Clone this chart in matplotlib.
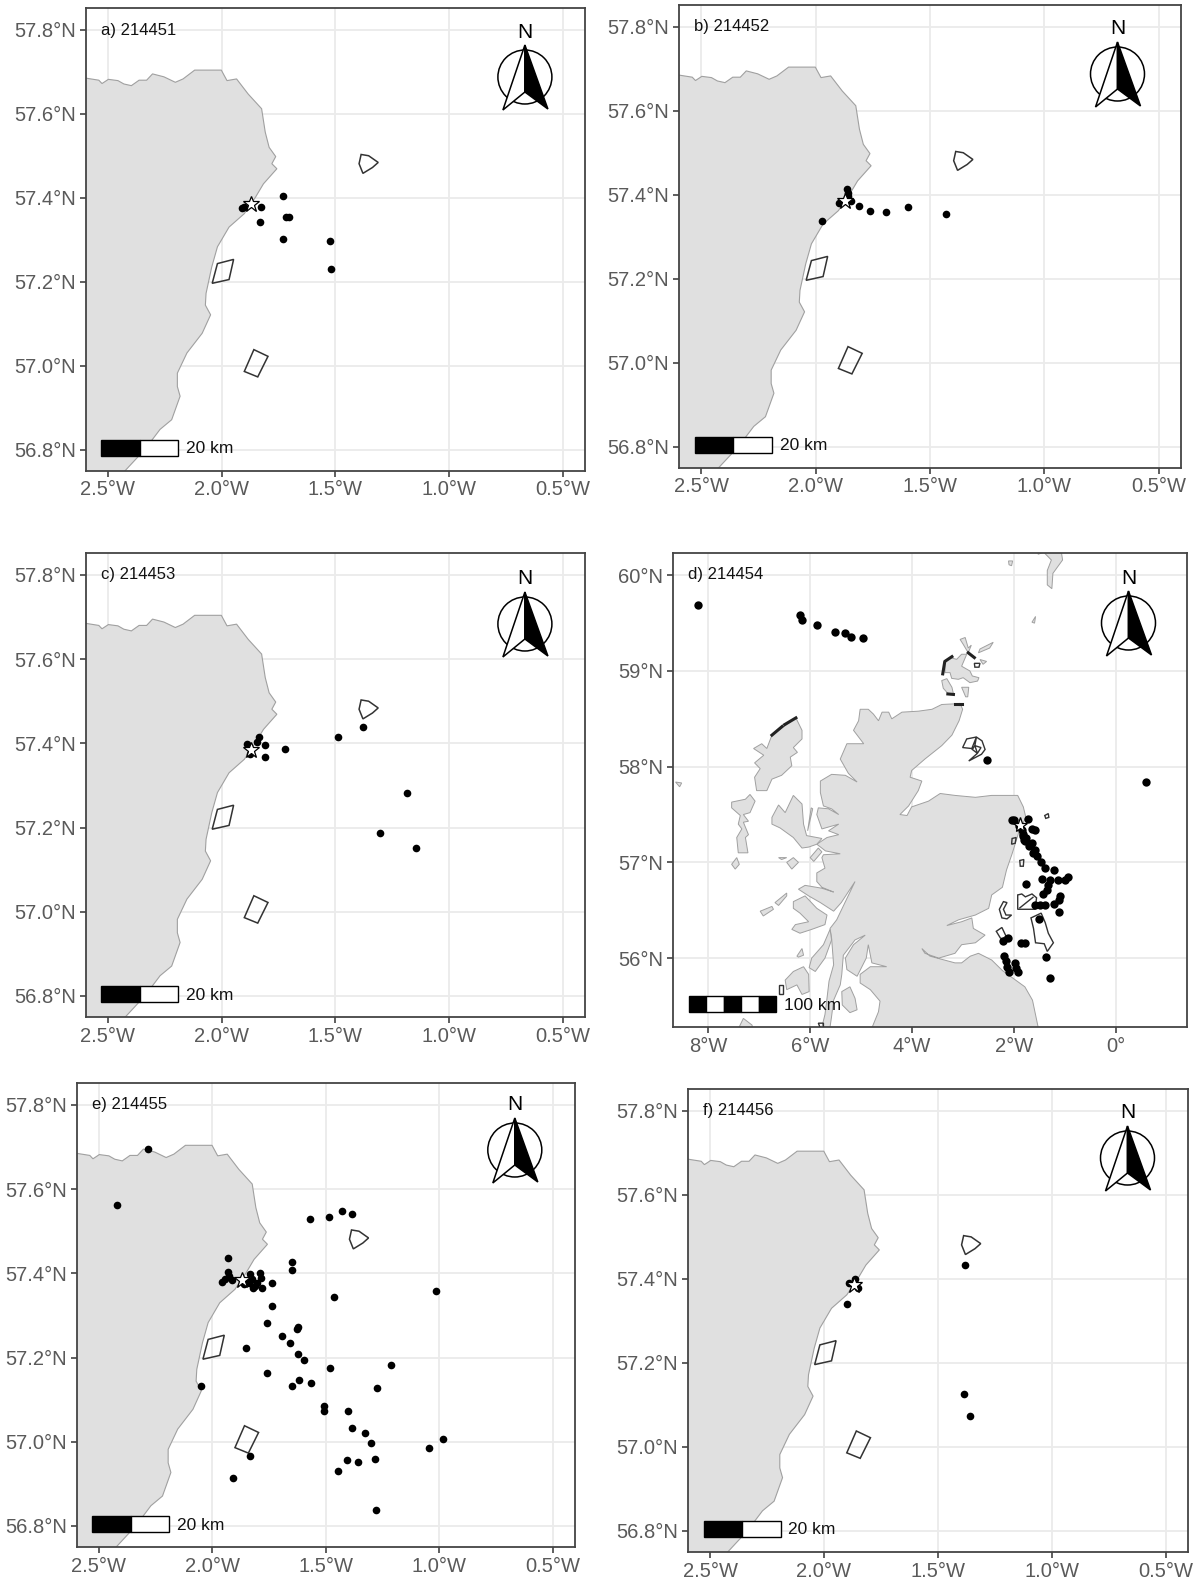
import matplotlib
matplotlib.use('Agg')
import matplotlib.pyplot as plt
from matplotlib.patches import Rectangle, Circle, Polygon

plt.rcParams['font.family'] = ['Liberation Sans', 'DejaVu Sans']

FIG_W = 1199
FIG_H = 1580

# pixel boxes of the panels: left, right, top, bottom
box_a = (85.6, 585.4, 8, 470.5)
box_b = (679, 1181, 5, 467.5)
box_c = (85.6, 585.4, 553, 1017)
box_d = (673, 1187, 553, 1027)
box_e = (76.6, 575.3, 1083, 1547)
box_f = (688, 1188, 1089, 1552)

# ticks
local_xticks = [-2.5, -2.0, -1.5, -1.0, -0.5]
local_xlabels = ['2.5°W', '2.0°W', '1.5°W', '1.0°W', '0.5°W']
local_yticks = [56.8, 57.0, 57.2, 57.4, 57.6, 57.8]
local_ylabels = ['56.8°N', '57.0°N', '57.2°N', '57.4°N', '57.6°N', '57.8°N']
wide_xticks = [-8, -6, -4, -2, 0]
wide_xlabels = ['8°W', '6°W', '4°W', '2°W', '0°']
wide_yticks = [56, 57, 58, 59, 60]
wide_ylabels = ['56°N', '57°N', '58°N', '59°N', '60°N']

# aberdeenshire coast for the zoomed panels
coast_lon = [-2.70, -2.597, -2.539, -2.525, -2.497, -2.455, -2.429, -2.396, -2.362, -2.329, -2.303, -2.253,
             -2.203, -2.169, -2.118, -2.001, -1.976, -1.934, -1.883, -1.824, -1.808, -1.791, -1.762, -1.779,
             -1.757, -1.816, -1.850, -1.900, -1.967, -2.018, -2.043, -2.068, -2.071, -2.048, -2.085, -2.152,
             -2.194, -2.194, -2.182, -2.219, -2.270, -2.337, -2.421, -2.50, -2.70]
coast_lat = [57.685, 57.685, 57.680, 57.672, 57.682, 57.679, 57.671, 57.667, 57.680, 57.680, 57.695, 57.688,
             57.675, 57.683, 57.704, 57.704, 57.679, 57.683, 57.647, 57.612, 57.556, 57.520, 57.498, 57.481,
             57.469, 57.433, 57.402, 57.362, 57.330, 57.283, 57.235, 57.172, 57.144, 57.121, 57.077, 57.030,
             56.982, 56.950, 56.927, 56.871, 56.848, 56.800, 56.751, 56.70, 56.70]

# wind farm outlines in the zoomed panels
farm1 = [(-1.396, 57.481), (-1.387, 57.503), (-1.354, 57.500), (-1.312, 57.484), (-1.337, 57.472), (-1.379, 57.458)]
farm2 = [(-1.947, 57.253), (-1.967, 57.205), (-2.041, 57.196), (-2.018, 57.243)]
farm3 = [(-1.858, 57.038), (-1.796, 57.022), (-1.841, 56.973), (-1.900, 56.986)]

star_lon = -1.87
star_lat = 57.385

# fixes per bird
a_lon = [-1.908, -1.900, -1.828, -1.729, -1.719, -1.702, -1.833, -1.732, -1.524, -1.520]
a_lat = [57.376, 57.378, 57.378, 57.404, 57.354, 57.354, 57.343, 57.302, 57.297, 57.229]

b_lon = [-1.861, -1.859, -1.857, -1.843, -1.898, -1.810, -1.760, -1.692, -1.597, -1.430, -1.971]
b_lat = [57.413, 57.404, 57.398, 57.386, 57.380, 57.374, 57.360, 57.359, 57.370, 57.354, 57.338]

c_lon = [-1.888, -1.835, -1.844, -1.807, -1.723, -1.810, -1.873, -1.487, -1.377, -1.187, -1.302, -1.147]
c_lat = [57.398, 57.414, 57.403, 57.396, 57.386, 57.367, 57.374, 57.416, 57.438, 57.282, 57.188, 57.152]

d_lon = [-8.19, -6.20, -6.17, -5.87, -5.52, -5.32, -5.20, -4.96, -2.54, 0.59,
         -2.05, -2.00, -1.72, -1.59, -1.65, -1.85, -1.83, -1.80, -1.76, -1.65, -1.59, -1.56, -1.47, -1.39,
         -1.22, -1.46, -1.29, -1.14, -1.00, -0.95, -1.76, -1.33, -1.35, -1.43, -1.10, -1.12, -1.22, -1.39,
         -1.49, -1.60, -1.12, -1.51, -2.21, -2.12, -1.86, -1.78, -2.19, -2.16, -2.14, -2.10, -1.98, -1.96,
         -1.93, -1.38, -1.29, -1.82, -1.90, -1.78, -1.70, -1.63]
d_lat = [59.69, 59.59, 59.53, 59.48, 59.41, 59.40, 59.36, 59.34, 58.07, 57.84,
         57.44, 57.44, 57.45, 57.34, 57.35, 57.34, 57.28, 57.23, 57.25, 57.20, 57.13, 57.07, 57.00, 56.94,
         56.92, 56.83, 56.82, 56.82, 56.82, 56.85, 56.77, 56.76, 56.71, 56.67, 56.65, 56.61, 56.57, 56.55,
         56.55, 56.56, 56.48, 56.41, 56.18, 56.21, 56.16, 56.16, 56.02, 55.97, 55.91, 55.85, 55.95, 55.90,
         55.85, 56.01, 55.79, 57.30, 57.38, 57.22, 57.17, 57.10]

e_lon = [-2.282, -2.418, -1.930, -1.650, -1.651, -1.571, -1.488, -1.431, -1.386, -1.463, -1.016, -1.735,
         -1.737, -1.761, -1.624, -1.629, -1.692, -1.658, -1.853, -1.623, -1.594, -1.480, -1.211, -1.759,
         -1.618, -1.566, -1.650, -1.275, -2.051, -1.508, -1.510, -1.403, -1.387, -1.327, -1.303, -0.986,
         -1.046, -1.833, -1.406, -1.357, -1.282, -1.446, -1.908, -1.278,
         -1.955, -1.946, -1.931, -1.928, -1.914, -1.862, -1.848, -1.833, -1.826, -1.821, -1.804, -1.789,
         -1.785, -1.782, -1.811, -1.840]
e_lat = [57.695, 57.563, 57.436, 57.426, 57.409, 57.528, 57.534, 57.547, 57.541, 57.344, 57.359, 57.376,
         57.323, 57.282, 57.273, 57.267, 57.251, 57.235, 57.222, 57.208, 57.195, 57.176, 57.183, 57.163,
         57.146, 57.140, 57.132, 57.128, 57.133, 57.086, 57.072, 57.072, 57.032, 57.021, 56.996, 57.007,
         56.986, 56.966, 56.957, 56.952, 56.959, 56.931, 56.914, 56.838,
         57.380, 57.386, 57.404, 57.394, 57.383, 57.374, 57.380, 57.399, 57.386, 57.366, 57.378, 57.401,
         57.390, 57.366, 57.370, 57.378]

f_lon = [-1.864, -1.890, -1.852, -1.900, -1.382, -1.386, -1.358]
f_lat = [57.400, 57.390, 57.379, 57.340, 57.432, 57.127, 57.073]

# scotland for panel d, clockwise from cape wrath
mainland = [(-5.02, 58.60), (-4.86, 58.60), (-4.76, 58.55), (-4.66, 58.48), (-4.59, 58.57), (-4.46, 58.57),
            (-4.40, 58.50), (-4.20, 58.57), (-3.88, 58.58), (-3.61, 58.60), (-3.42, 58.65), (-3.06, 58.66),
            (-3.01, 58.60), (-3.08, 58.48), (-3.22, 58.33), (-3.42, 58.22), (-3.75, 58.08), (-4.01, 57.96),
            (-4.04, 57.89), (-3.81, 57.85), (-3.88, 57.75), (-4.07, 57.59), (-4.24, 57.50), (-4.10, 57.49),
            (-4.01, 57.58), (-3.68, 57.64), (-3.45, 57.72), (-3.16, 57.70), (-2.76, 57.68), (-2.44, 57.70),
            (-1.93, 57.70), (-1.82, 57.58), (-1.77, 57.47), (-1.90, 57.33), (-2.04, 57.09), (-2.15, 56.92),
            (-2.23, 56.74), (-2.44, 56.66), (-2.50, 56.52), (-2.76, 56.45), (-3.09, 56.40), (-3.32, 56.34),
            (-3.03, 56.38), (-2.83, 56.42), (-2.80, 56.31), (-2.57, 56.24), (-2.76, 56.16), (-3.03, 56.14),
            (-3.16, 56.05), (-3.48, 56.00), (-3.75, 56.05), (-3.81, 56.10), (-3.65, 56.02), (-3.16, 55.95),
            (-3.03, 55.95), (-2.86, 56.02), (-2.70, 56.05), (-2.44, 55.98), (-2.23, 55.87), (-1.79, 55.70),
            (-1.64, 55.56), (-1.53, 55.28), (-1.50, 55.20), (-4.82, 55.20), (-4.82, 55.23), (-4.66, 55.44),
            (-4.63, 55.55), (-4.82, 55.67), (-5.02, 55.74), (-5.02, 55.83), (-4.82, 55.91), (-4.50, 55.91),
            (-4.79, 55.95), (-4.86, 56.14), (-4.90, 56.00), (-5.08, 55.81), (-5.28, 55.88), (-5.31, 56.00),
            (-5.15, 56.14), (-4.92, 56.24), (-5.12, 56.19), (-5.35, 56.03), (-5.38, 55.83), (-5.41, 55.72),
            (-5.54, 55.56), (-5.58, 55.39), (-5.61, 55.28), (-5.77, 55.28), (-5.71, 55.41), (-5.67, 55.58),
            (-5.63, 55.76), (-5.54, 55.93), (-5.58, 56.21), (-5.61, 56.31), (-5.48, 56.40), (-5.12, 56.80),
            (-5.39, 56.58), (-5.54, 56.49), (-5.80, 56.58), (-6.03, 56.65), (-6.23, 56.72), (-6.10, 56.76),
            (-5.77, 56.73), (-5.54, 56.69), (-5.77, 56.74), (-5.87, 56.80), (-5.87, 56.89), (-5.71, 56.94),
            (-5.77, 57.05), (-5.74, 57.08), (-5.41, 57.09), (-5.70, 57.12), (-5.87, 57.19), (-5.67, 57.26),
            (-5.44, 57.29), (-5.64, 57.33), (-5.44, 57.40), (-5.77, 57.35), (-5.87, 57.50), (-5.84, 57.57),
            (-5.64, 57.56), (-5.44, 57.50), (-5.58, 57.56), (-5.74, 57.59), (-5.80, 57.73), (-5.80, 57.85),
            (-5.58, 57.92), (-5.31, 57.91), (-5.08, 57.84), (-5.25, 57.93), (-5.41, 58.08), (-5.28, 58.24),
            (-4.95, 58.24), (-5.15, 58.38), (-5.05, 58.48)]
lewis = [(-6.28, 58.51), (-6.16, 58.38), (-6.16, 58.29), (-6.33, 58.20), (-6.25, 58.15), (-6.39, 58.10),
         (-6.36, 58.01), (-6.56, 57.91), (-6.75, 57.87), (-6.85, 57.75), (-7.05, 57.75), (-7.09, 57.89),
         (-6.98, 57.98), (-7.09, 58.04), (-6.91, 58.12), (-7.11, 58.19), (-6.95, 58.24), (-6.85, 58.19),
         (-6.75, 58.33)]
uist = [(-7.54, 57.63), (-7.27, 57.66), (-7.18, 57.71), (-7.08, 57.64), (-7.18, 57.52), (-7.31, 57.50),
        (-7.21, 57.43), (-7.31, 57.42), (-7.21, 57.29), (-7.27, 57.26), (-7.22, 57.10), (-7.41, 57.10),
        (-7.44, 57.26), (-7.34, 57.35), (-7.41, 57.40), (-7.37, 57.49), (-7.54, 57.57)]
barra = [(-7.54, 56.98), (-7.44, 57.05), (-7.39, 56.98), (-7.47, 56.93)]
skye = [(-6.75, 57.47), (-6.62, 57.60), (-6.49, 57.52), (-6.33, 57.70), (-6.16, 57.61), (-6.13, 57.40),
        (-6.07, 57.28), (-5.77, 57.25), (-5.87, 57.19), (-6.03, 57.16), (-6.16, 57.15), (-6.33, 57.26),
        (-6.59, 57.36), (-6.75, 57.40)]
raasay = [(-5.98, 57.57), (-5.95, 57.56), (-6.05, 57.33)]
eigg = [(-6.00, 57.05), (-5.84, 57.15), (-5.77, 57.11), (-5.93, 57.01)]
rum = [(-6.46, 57.00), (-6.33, 57.05), (-6.23, 57.00), (-6.36, 56.93)]
canna = [(-6.62, 57.05), (-6.46, 57.05), (-6.56, 57.03)]
tiree = [(-6.98, 56.49), (-6.75, 56.54), (-6.72, 56.51), (-6.92, 56.44)]
coll = [(-6.69, 56.58), (-6.46, 56.68), (-6.46, 56.65), (-6.62, 56.55)]
mull = [(-6.33, 56.59), (-6.10, 56.65), (-5.87, 56.52), (-5.67, 56.45), (-5.71, 56.35), (-5.97, 56.30),
        (-6.20, 56.26), (-6.36, 56.30), (-6.29, 56.35), (-6.03, 56.38), (-6.20, 56.47), (-6.33, 56.52)]
jura = [(-5.61, 56.30), (-5.58, 56.19), (-5.71, 56.00), (-5.90, 55.86), (-6.02, 55.90), (-5.97, 56.00), (-5.74, 56.14)]
colonsay = [(-6.26, 56.02), (-6.16, 56.10), (-6.13, 56.03), (-6.23, 56.01)]
islay = [(-6.33, 55.86), (-6.13, 55.91), (-6.03, 55.83), (-6.02, 55.65), (-6.16, 55.62), (-6.26, 55.72),
         (-6.46, 55.67), (-6.49, 55.77)]
arran = [(-5.38, 55.65), (-5.22, 55.70), (-5.12, 55.58), (-5.08, 55.46), (-5.22, 55.43), (-5.37, 55.51)]
ireland = [(-7.41, 55.26), (-7.31, 55.37), (-7.14, 55.30), (-7.11, 55.20), (-7.41, 55.20)]
rathlin = [(-6.29, 55.28), (-6.16, 55.28), (-6.16, 55.24), (-6.29, 55.24)]
orkney = [(-3.355, 59.087), (-3.257, 59.14), (-3.127, 59.122), (-3.03, 59.175), (-2.93, 59.175), (-3.00, 59.087),
          (-3.03, 59.05), (-2.867, 59.00), (-2.82, 58.948), (-2.69, 58.93), (-2.717, 58.895), (-2.867, 58.878),
          (-3.00, 58.93), (-3.094, 58.913), (-3.225, 58.923), (-3.257, 58.983), (-3.355, 58.983)]
hoy = [(-3.42, 58.90), (-3.32, 58.92), (-3.22, 58.83), (-3.19, 58.76), (-3.29, 58.76), (-3.39, 58.82)]
ronaldsay = [(-3.03, 58.83), (-2.89, 58.83), (-2.91, 58.73), (-2.95, 58.73)]
westray = [(-3.06, 59.33), (-2.96, 59.35), (-2.90, 59.24), (-2.84, 59.27), (-2.90, 59.19), (-3.00, 59.28)]
sanday = [(-2.67, 59.23), (-2.41, 59.30), (-2.48, 59.24), (-2.70, 59.19)]
stronsay = [(-2.67, 59.12), (-2.54, 59.10), (-2.61, 59.07)]
shetland = [(-1.53, 60.30), (-1.53, 60.22), (-1.09, 60.30), (-1.05, 60.16), (-1.24, 60.02), (-1.26, 59.86),
            (-1.35, 59.90), (-1.35, 60.05), (-1.27, 60.16)]
foula = [(-2.11, 60.15), (-2.03, 60.15), (-2.05, 60.10), (-2.10, 60.11)]
fair_isle = [(-1.65, 59.51), (-1.58, 59.57), (-1.60, 59.50)]
rona = [(-8.64, 57.84), (-8.52, 57.83), (-8.56, 57.79)]
small_isles = [mainland, lewis, uist, barra, skye, raasay, eigg, rum, canna, tiree, coll, mull, jura, colonsay,
               islay, arran, ireland, rathlin, orkney, hoy, ronaldsay, westray, sanday, stronsay, shetland,
               foula, fair_isle, rona]

# protected site and wind farm outlines in panel d
moray = [(-3.01, 58.20), (-2.93, 58.29), (-2.74, 58.31), (-2.63, 58.27), (-2.57, 58.18), (-2.64, 58.13),
         (-2.89, 58.06), (-2.72, 58.14), (-2.82, 58.18), (-2.77, 58.22), (-2.74, 58.31), (-2.83, 58.19)]
moray_inner = [(-2.77, 58.22), (-2.65, 58.20), (-2.72, 58.14)]
seagreen = [(-1.93, 56.66), (-1.85, 56.67), (-1.78, 56.64), (-1.65, 56.67), (-1.56, 56.63), (-1.59, 56.51), (-1.93, 56.51)]
seagreen_diag = [(-1.90, 56.52), (-1.62, 56.64)]
crescent = [(-2.29, 56.51), (-2.21, 56.59), (-2.14, 56.58), (-2.21, 56.51), (-2.16, 56.45), (-2.05, 56.45),
            (-2.14, 56.41), (-2.24, 56.42)]
neart = [(-2.35, 56.28), (-2.24, 56.32), (-2.16, 56.23), (-2.23, 56.20), (-2.27, 56.21)]
long_site = [(-1.67, 56.42), (-1.47, 56.47), (-1.39, 56.37), (-1.33, 56.26), (-1.23, 56.16), (-1.35, 56.07),
             (-1.41, 56.15), (-1.58, 56.16), (-1.62, 56.31)]
farm_small1 = [(-1.40, 57.49), (-1.33, 57.51), (-1.32, 57.47), (-1.38, 57.46)]
farm_small2 = [(-2.04, 57.25), (-1.96, 57.26), (-1.98, 57.20), (-2.05, 57.19)]
farm_small3 = [(-1.89, 57.02), (-1.81, 57.03), (-1.82, 56.96), (-1.88, 56.96)]
orkney_box = [(-2.78, 59.08), (-2.67, 59.08), (-2.69, 59.04), (-2.77, 59.04)]
islay_box = [(-6.61, 55.72), (-6.54, 55.72), (-6.54, 55.63), (-6.61, 55.63)]
gigha_box = [(-5.84, 55.32), (-5.74, 55.32), (-5.74, 55.27), (-5.80, 55.27)]
wide_sites = [moray, moray_inner, seagreen, seagreen_diag, crescent, neart, long_site, farm_small1, farm_small2,
              farm_small3, orkney_box, islay_box, gigha_box]

# dark coastal strips, dense fixes on the coast
strips = [[(-6.75, 58.33), (-6.55, 58.42)], [(-6.50, 58.44), (-6.28, 58.51)],
          [(-3.40, 58.97), (-3.36, 59.10), (-3.22, 59.15)], [(-2.90, 59.19), (-2.78, 59.14)],
          [(-3.30, 58.76), (-3.19, 58.755)], [(-3.16, 58.66), (-3.11, 58.66)], [(-3.06, 58.655), (-3.03, 58.655)]]


def make_axes(fig, box):
    left, right, top, bottom = box
    ax = fig.add_axes([left / FIG_W, 1 - bottom / FIG_H, (right - left) / FIG_W, (bottom - top) / FIG_H])
    ax.set_axisbelow(True)
    ax.grid(color='#ebebeb', lw=1.3)
    for s in ax.spines.values():
        s.set_color('#444444')
        s.set_linewidth(1.3)
    ax.tick_params(length=4, width=1.1, color='#333333', labelcolor='#5a5a5a', labelsize=14.5, pad=3)
    return ax


def north_arrow(ax, from_right, from_top):
    w_px = ax.get_position().width * FIG_W
    h_px = ax.get_position().height * FIG_H
    size = 120
    cx = (w_px - from_right) / w_px
    cy = (h_px - from_top) / h_px
    ins = ax.inset_axes([cx - size / 2 / w_px, cy - size / 2 / h_px, size / w_px, size / h_px])
    ins.set_xlim(-size / 2, size / 2)
    ins.set_ylim(-size / 2, size / 2)
    ins.axis('off')
    ins.add_patch(Circle((0, 0), 27, fc='none', ec='black', lw=1.1))
    ins.add_patch(Polygon([(0, 32), (-22, -33), (0, -15)], fc='white', ec='black', lw=1.1))
    ins.add_patch(Polygon([(0, 32), (23, -32), (0, -15)], fc='black', ec='black', lw=1.1))
    ins.text(0, 45, 'N', ha='center', va='center', fontsize=15, color='black')


def scale_bar(ax, segments, seg_px, label):
    w_px = ax.get_position().width * FIG_W
    h_px = ax.get_position().height * FIG_H
    x0 = 15.5
    y0 = 15
    bar_h = 16
    for i in range(segments):
        ax.add_patch(Rectangle(((x0 + i * seg_px) / w_px, y0 / h_px), seg_px / w_px, bar_h / h_px,
                               transform=ax.transAxes, fc='black' if i % 2 == 0 else 'white',
                               ec='black', lw=1, zorder=6))
    ax.text((x0 + segments * seg_px + 8) / w_px, (y0 + bar_h / 2 - 1) / h_px, label, transform=ax.transAxes,
            fontsize=12.5, ha='left', va='center', color='#111111', zorder=6)


def panel_label(ax, text, top_px):
    h_px = ax.get_position().height * FIG_H
    w_px = ax.get_position().width * FIG_W
    ax.text(15 / w_px, 1 - top_px / h_px, text, transform=ax.transAxes, fontsize=12, ha='left', va='center',
            color='#111111')


def draw_local(fig, box, lon, lat, label, label_top=21, arrow=(60.5, 69)):
    ax = make_axes(fig, box)
    ax.fill(coast_lon, coast_lat, fc='#e0e0e0', ec='#a0a0a0', lw=0.8, zorder=2)
    for farm in [farm1, farm2, farm3]:
        ax.add_patch(Polygon(farm, fc='none', ec='#333333', lw=1.1, zorder=3))
    ax.plot(lon, lat, 'o', color='black', ms=5.5, mew=0, zorder=4)
    ax.plot([star_lon], [star_lat], '*', mfc='white', mec='black', ms=12, mew=0.9, zorder=5)
    ax.set_xlim(-2.597, -0.402)
    ax.set_ylim(56.75, 57.852)
    ax.set_xticks(local_xticks, local_xlabels)
    ax.set_yticks(local_yticks, local_ylabels)
    panel_label(ax, label, label_top)
    scale_bar(ax, 2, 38.5, '20 km')
    north_arrow(ax, arrow[0], arrow[1])
    return ax


def draw_wide(fig, box, lon, lat, label):
    ax = make_axes(fig, box)
    for poly in small_isles:
        ax.add_patch(Polygon(poly, fc='#e0e0e0', ec='#a0a0a0', lw=0.7, zorder=2))
    for site in wide_sites:
        closed = site is not seagreen_diag
        ax.add_patch(Polygon(site, closed=closed, fc='none', ec='#333333', lw=1.0, zorder=3))
    for strip in strips:
        ax.plot([p[0] for p in strip], [p[1] for p in strip], color='#222222', lw=2.2, zorder=3)
    ax.plot(lon, lat, 'o', color='black', ms=6, mew=0, zorder=4)
    ax.plot([star_lon - 0.01], [57.39], '*', mfc='white', mec='black', ms=11, mew=0.9, zorder=5)
    ax.set_xlim(-8.69, 1.39)
    ax.set_ylim(55.28, 60.233)
    ax.set_xticks(wide_xticks, wide_xlabels)
    ax.set_yticks(wide_yticks, wide_ylabels)
    panel_label(ax, label, 21)
    scale_bar(ax, 5, 17.5, '100 km')
    north_arrow(ax, 58.5, 70)
    return ax


fig = plt.figure(figsize=(FIG_W / 100, FIG_H / 100), dpi=100)
draw_local(fig, box_a, a_lon, a_lat, 'a) 214451', label_top=23, arrow=(60.5, 69))
draw_local(fig, box_b, b_lon, b_lat, 'b) 214452', arrow=(63.5, 69))
draw_local(fig, box_c, c_lon, c_lat, 'c) 214453', arrow=(60.5, 71))
draw_wide(fig, box_d, d_lon, d_lat, 'd) 214454')
draw_local(fig, box_e, e_lon, e_lat, 'e) 214455', arrow=(60.5, 67))
draw_local(fig, box_f, f_lon, f_lat, 'f) 214456', arrow=(60.5, 69))
plt.savefig('out.png', dpi=100)
